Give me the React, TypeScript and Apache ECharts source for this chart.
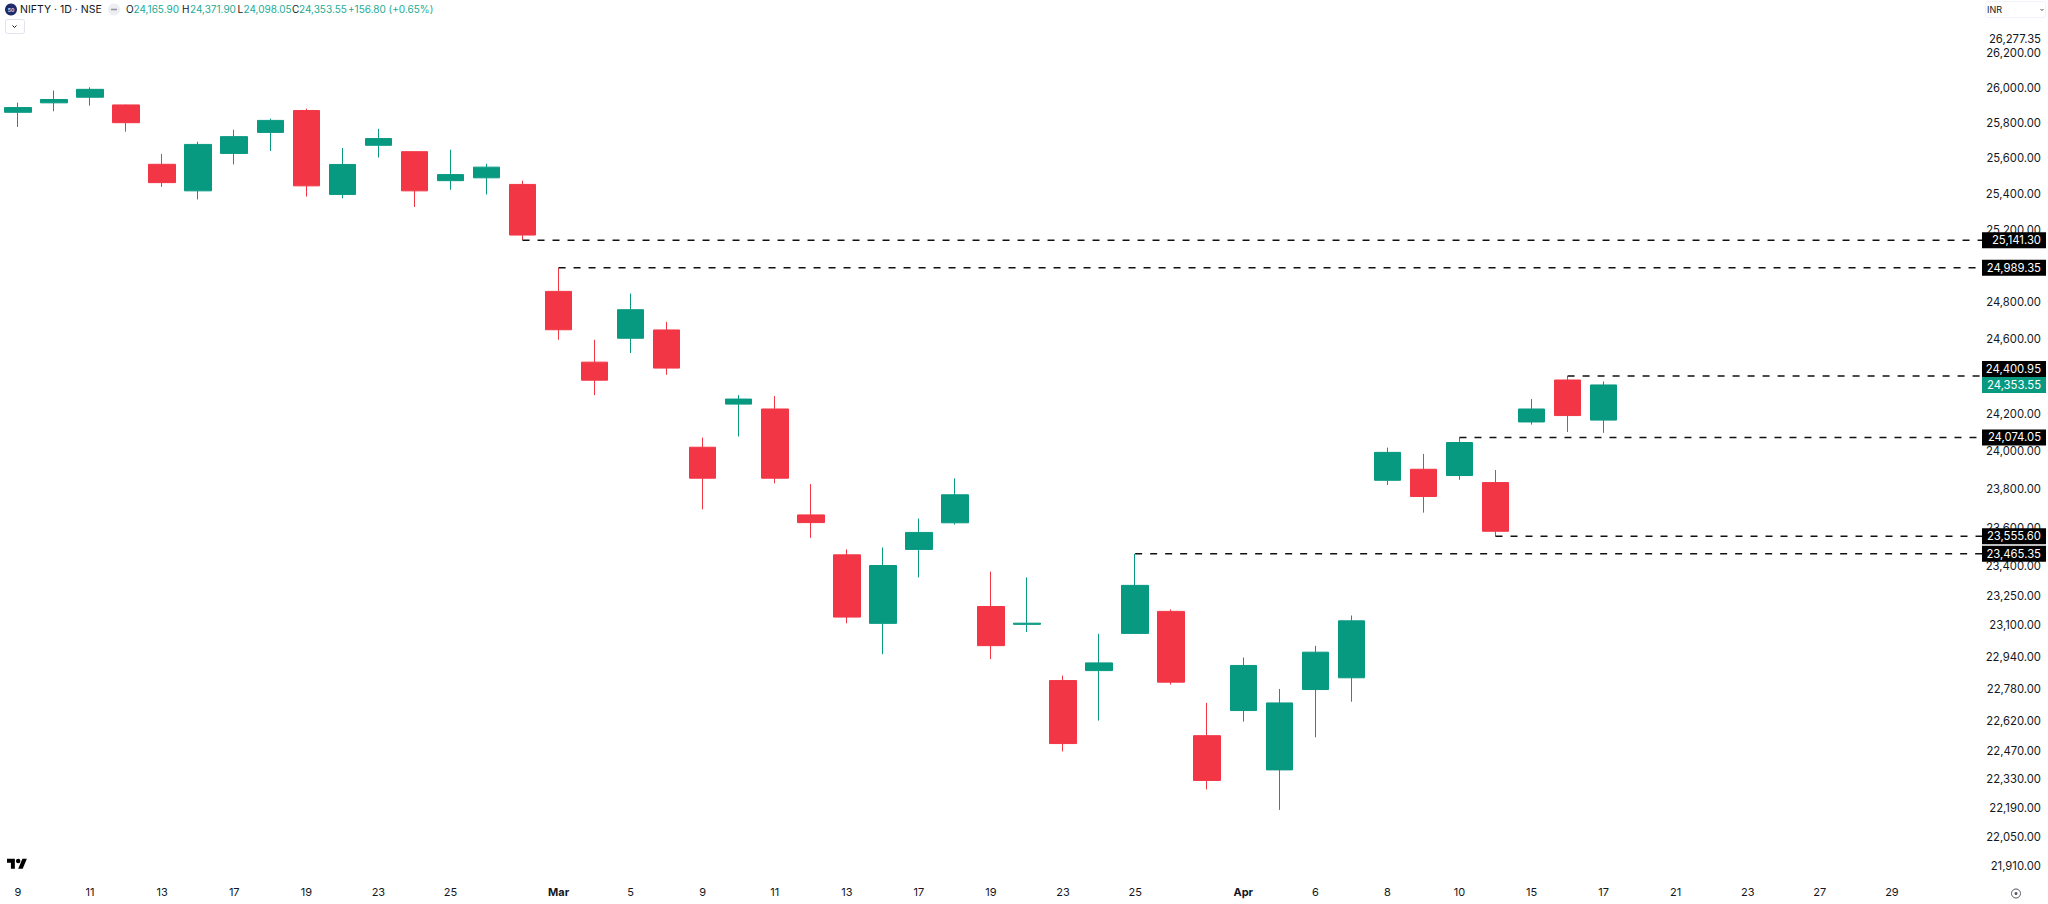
import React, { useEffect, useRef } from "react";
import * as echarts from "echarts";

const GREEN = "#089981";
const RED = "#F23645";
const TEXT = "#131722";
const FONT = "Inter, 'Noto Sans', sans-serif";

// Trading sessions, then the empty sessions to the right of the last candle
const sessionLabels = [
  "9", "10", "11", "12", "13", "16", "17", "18", "19", "20", "23", "24", "25", "26", "27",
  "Mar", "4", "5", "6", "9", "10", "11", "12", "13", "16", "17", "18", "19", "20", "23", "24", "25", "27", "30",
  "Apr", "2", "6", "7", "8", "9", "10", "13", "15", "16", "17",
  "20", "21", "22", "23", "24", "27", "28", "29", "30", "May",
];
const labelledSessions = [0, 2, 4, 6, 8, 10, 12, 15, 17, 19, 21, 23, 25, 27, 29, 31, 34, 36, 38, 40, 42, 44, 46, 48, 50, 52];

// open, close, low, high
const ohlc = [
  [25859, 25886, 25776, 25914],
  [25913, 25932, 25865, 25983],
  [25945, 25990, 25897, 26002],
  [25901, 25800, 25749, 25903],
  [25565, 25462, 25438, 25623],
  [25416, 25677, 25368, 25692],
  [25626, 25721, 25564, 25760],
  [25745, 25813, 25640, 25823],
  [25869, 25444, 25384, 25880],
  [25396, 25564, 25374, 25657],
  [25672, 25710, 25603, 25765],
  [25636, 25416, 25326, 25636],
  [25473, 25507, 25422, 25647],
  [25489, 25549, 25396, 25568],
  [25452, 25170, 25141.3, 25473],
  [24860, 24651, 24597, 24989.35],
  [24476, 24379, 24299, 24597],
  [24605, 24760, 24525, 24848],
  [24650, 24444, 24408, 24694],
  [24022, 23859, 23696, 24073],
  [24251, 24278, 24079, 24299],
  [24225, 23859, 23832, 24294],
  [23667, 23627, 23548, 23828],
  [23460, 23141, 23109, 23488],
  [23109, 23405, 22953, 23498],
  [23488, 23576, 23344, 23648],
  [23626, 23772, 23617, 23858],
  [23195, 22996, 22928, 23374],
  [23104, 23110, 23065, 23344],
  [22820, 22506, 22467, 22845],
  [22870, 22909, 22620, 23056],
  [23058, 23303, 23056, 23465.35],
  [23170, 22812, 22800, 23180],
  [22545, 22324, 22280, 22708],
  [22670, 22896, 22615, 22936],
  [22376, 22708, 22180, 22778],
  [22775, 22963, 22537, 22995],
  [22834, 23122, 22714, 23149],
  [23848, 23995, 23823, 24020],
  [23906, 23763, 23679, 23987],
  [23873, 24047, 23851, 24074.05],
  [23836, 23582, 23555.6, 23902],
  [24156, 24225, 24142, 24278],
  [24380, 24190, 24103, 24400.95],
  [24165.9, 24353.55, 24098.05, 24371.9],
];

const priceTicks = [
  26277.35, 26200, 26000, 25800, 25600, 25400, 25200, 24800, 24600, 24200, 24000, 23800,
  23600, 23400, 23250, 23100, 22940, 22780, 22620, 22470, 22330, 22190, 22050, 21910,
];
const axisMin = 21838;
const axisMax = 26503;

const levelValues = [25141.3, 24989.35, 24400.95, 24074.05, 23555.6, 23465.35];
const levelStartSession = [14, 15, 43, 40, 41, 31];
const lastClose = 24353.55;
const lastSession = 44;

const symbolText = "NIFTY · 1D · NSE";
const ohlcNames = ["O", "H", "L", "C"];
const ohlcValues = ["24,165.90", "24,371.90", "24,098.05", "24,353.55"];
const changeText = "+156.80 (+0.65%)";

const money = (v: number) =>
  v.toLocaleString("en-US", { minimumFractionDigits: 2, maximumFractionDigits: 2 });

echarts.graphic.registerShape(
  "tvlogo",
  echarts.graphic.extendPath("M14 22H7V11H0V4h14v18zM28 22h-8l7.5-18h8L28 22zM24 8a4 4 0 1 1-8 0a4 4 0 1 1 8 0z", {})
);

export default function App() {
  const ref = useRef<HTMLDivElement>(null);
  useEffect(() => {
    document.body.style.margin = "0";
    document.body.style.background = "#fff";
    const chart = echarts.init(ref.current!, undefined, { renderer: "svg" });

    const headText = (text: string, x: number, fill: string, fontSize = 11) => ({
      type: "text",
      x,
      y: 9,
      style: { text, fill, font: `${fontSize}px ${FONT}`, textAlign: "left", textVerticalAlign: "middle" },
    });
    const ohlcX = [126, 182, 237.5, 292];
    const valX = [133.5, 190, 243.5, 299];

    chart.setOption({
      animation: false,
      backgroundColor: "#ffffff",
      textStyle: { fontFamily: FONT },
      grid: { left: -0.5, right: 66, top: 0.5, bottom: 23.5, containLabel: false },
      xAxis: {
        type: "category",
        data: sessionLabels,
        boundaryGap: true,
        axisLine: { show: false },
        axisTick: { show: false },
        splitLine: { show: false },
        axisLabel: {
          interval: (i: number) => labelledSessions.includes(i),
          margin: 5.5,
          fontSize: 11,
          color: TEXT,
          fontFamily: FONT,
          formatter: (v: string) => (v === "Mar" || v === "Apr" ? `{b|${v}}` : v),
          rich: { b: { fontWeight: 700, fontSize: 11, color: TEXT, fontFamily: FONT } },
        },
      },
      yAxis: {
        type: "log",
        logBase: 10,
        position: "right",
        min: axisMin,
        max: axisMax,
        axisLine: { show: false },
        axisTick: { show: false },
        splitLine: { show: false },
        axisLabel: {
          customValues: priceTicks,
          margin: 59,
          align: "right",
          fontSize: 11.3,
          color: TEXT,
          fontFamily: FONT,
          formatter: (v: number) => money(v),
        },
      },
      series: [
        {
          type: "candlestick",
          data: ohlc,
          barWidth: 27,
          itemStyle: { color: GREEN, color0: RED, borderColor: GREEN, borderColor0: RED, borderWidth: 1 },
        },
        {
          type: "custom",
          z: 5,
          clip: false,
          silent: true,
          encode: { x: 0, y: 1 },
          data: [
            ...levelValues.map((v, i) => [levelStartSession[i], v]),
            [lastSession, lastClose],
          ],
          renderItem: (params: any, api: any) => {
            const i = params.dataIndex;
            const isLevel = i < levelValues.length;
            const [x, y] = api.coord([api.value(0), api.value(1)]);
            const right = params.coordSys.x + params.coordSys.width;
            const priceY = api.coord([lastSession, lastClose])[1];
            let tagY = y;
            if (isLevel && Math.abs(y - priceY) < 16) tagY = priceY - 16;
            const children: any[] = [];
            if (isLevel) {
              children.push({
                type: "line",
                shape: { x1: x, y1: y, x2: right, y2: y },
                style: { stroke: "#111111", lineWidth: 1.5, lineDash: [7, 8] },
              });
            }
            children.push({
              type: "rect",
              shape: { x: right, y: tagY - 8, width: 64, height: 16 },
              style: { fill: isLevel ? "#000000" : GREEN },
            });
            children.push({
              type: "text",
              x: right + 59,
              y: tagY,
              style: {
                text: money(api.value(1)),
                fill: "#ffffff",
                font: `11.3px ${FONT}`,
                textAlign: "right",
                textVerticalAlign: "middle",
              },
            });
            return { type: "group", children };
          },
        },
      ],
      graphic: [
        { type: "circle", shape: { cx: 11, cy: 9.5, r: 6 }, style: { fill: "#1f2a6b" } },
        {
          type: "text",
          x: 11,
          y: 9.5,
          style: { text: "50", fill: "#d8dcf0", font: `bold 5px ${FONT}`, textAlign: "center", textVerticalAlign: "middle" },
        },
        headText(symbolText, 20, TEXT, 10.5),
        { type: "circle", shape: { cx: 114, cy: 9.5, r: 6 }, style: { fill: "#eceef2" } },
        { type: "rect", shape: { x: 111, y: 8.7, width: 6, height: 1.6 }, style: { fill: "#9598a1" } },
        ...ohlcNames.map((n, i) => headText(n, ohlcX[i], TEXT, 10)),
        ...ohlcValues.map((v, i) => headText(v, valX[i], "#22ab94", 10)),
        headText(changeText, 348, "#22ab94", 10),
        {
          type: "rect",
          shape: { x: 5.5, y: 19.5, width: 19, height: 14, r: 2 },
          style: { fill: "#ffffff", stroke: "#e0e3eb", lineWidth: 1 },
        },
        {
          type: "polyline",
          shape: { points: [[12.5, 25.5], [14.5, 27.5], [16.5, 25.5]] },
          style: { stroke: TEXT, lineWidth: 1, fill: "none" },
        },
        {
          type: "rect",
          shape: { x: 1985.5, y: 1.5, width: 60, height: 16, r: 2 },
          style: { fill: "#ffffff", stroke: "#f0f3fa", lineWidth: 1 },
        },
        {
          type: "text",
          x: 1987,
          y: 9.5,
          style: { text: "INR", fill: TEXT, font: `9px ${FONT}`, textAlign: "left", textVerticalAlign: "middle" },
        },
        {
          type: "polyline",
          shape: { points: [[2040.5, 9], [2042, 10.5], [2043.5, 9]] },
          style: { stroke: "#50535e", lineWidth: 1, fill: "none" },
        },
        { type: "tvlogo", x: 7, y: 856.5, scaleX: 0.56, scaleY: 0.56, style: { fill: "#000000" } },
        { type: "circle", shape: { cx: 2016, cy: 893.5, r: 4.5 }, style: { fill: "none", stroke: "#50535e", lineWidth: 1 } },
        { type: "circle", shape: { cx: 2016, cy: 893.5, r: 1.5 }, style: { fill: "#50535e" } },
      ],
    });
    return () => chart.dispose();
  }, []);
  return <div ref={ref} style={{ position: "fixed", left: 0, top: 0, width: 2048, height: 904 }} />;
}
